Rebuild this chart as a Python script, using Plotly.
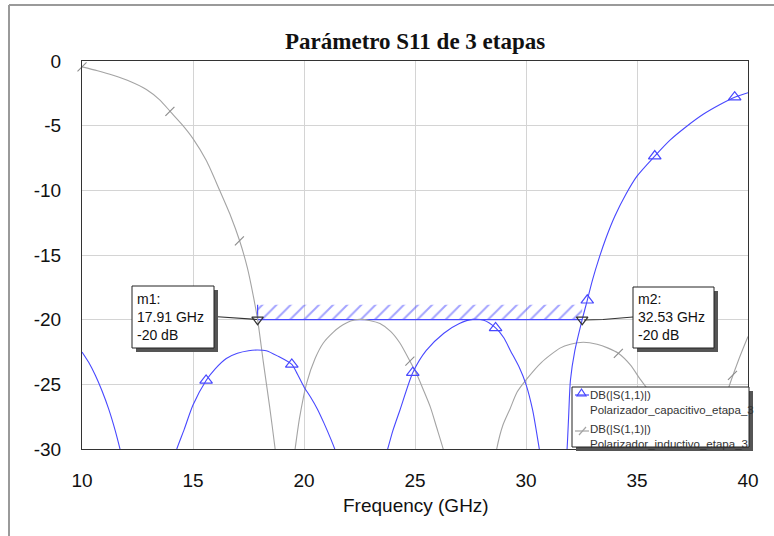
import plotly.graph_objects as go

# ---------------- data ----------------
# Polarizador_capacitivo_etapa_3 (blue), separate arcs (values below -30 are clipped by the axis)
cap_a_ghz = [10.0, 10.3, 10.6, 10.9, 11.2, 11.5, 11.8, 12.0]
cap_a_db = [-22.5, -23.3, -24.3, -25.5, -26.9, -28.6, -30.6, -32.0]
cap_b_ghz = [14.0, 14.27, 14.6, 15.0, 15.59, 16.0, 16.5, 17.0, 17.5, 17.9, 18.3, 18.8, 19.45, 19.7, 20.0, 20.3, 20.6, 20.9, 21.2, 21.45, 21.6]
cap_b_db = [-31.5, -30.0, -28.5, -26.6, -24.7, -23.8, -23.0, -22.6, -22.4, -22.35, -22.4, -22.8, -23.46, -24.2, -25.2, -26.0, -26.9, -28.0, -29.2, -30.3, -31.2]
cap_c_ghz = [23.5, 23.77, 24.0, 24.32, 24.9, 25.5, 26.3, 27.0, 27.6, 28.1, 28.63, 29.0, 29.3, 29.7, 30.0, 30.3, 30.6, 30.75]
cap_c_db = [-31.6, -30.0, -28.6, -27.0, -24.1, -22.4, -21.05, -20.3, -19.98, -20.05, -20.64, -21.4, -22.4, -23.7, -25.0, -27.0, -30.0, -31.5]
cap_d_ghz = [31.75, 31.85, 31.92, 32.0, 32.2, 32.53, 32.76, 33.0, 33.3, 33.6, 34.0, 34.5, 35.0, 35.8, 36.5, 37.2, 38.0, 38.7, 39.4, 40.0]
cap_d_db = [-32.0, -30.0, -27.5, -24.7, -22.4, -20.0, -18.5, -16.9, -15.2, -13.7, -12.0, -10.3, -8.9, -7.35, -6.1, -5.1, -4.1, -3.4, -2.8, -2.45]
cap_mark_ghz = [15.59, 19.45, 24.9, 28.63, 32.76, 35.8, 39.4]
cap_mark_db = [-24.7, -23.46, -24.1, -20.64, -18.5, -7.35, -2.8]

# Polarizador_inductivo_etapa_3 (gray)
ind_a_ghz = [10.0, 10.7, 11.4, 12.2, 12.9, 13.5, 14.0, 14.5, 15.0, 15.6, 16.2, 16.7, 17.1, 17.45, 17.72, 17.91, 18.17, 18.45, 18.7, 18.8]
ind_a_db = [-0.45, -0.75, -1.1, -1.6, -2.2, -3.0, -3.95, -4.9, -6.0, -7.7, -10.0, -12.0, -13.9, -16.0, -18.2, -20.0, -23.3, -26.7, -30.0, -31.5]
ind_b_ghz = [19.45, 19.6, 19.8, 20.12, 20.5, 20.87, 21.3, 21.62, 22.1, 22.5, 23.0, 23.42, 23.9, 24.32, 24.77, 25.1, 25.37, 25.7, 25.97, 26.27, 26.4]
ind_b_db = [-32.0, -30.0, -27.6, -24.9, -23.0, -21.8, -21.0, -20.55, -20.1, -19.98, -20.08, -20.3, -20.9, -21.8, -23.2, -24.3, -25.4, -26.8, -28.3, -30.0, -31.0]
ind_c_ghz = [28.55, 28.68, 28.95, 29.28, 29.6, 30.03, 30.7, 31.53, 32.0, 32.58, 33.2, 33.7, 34.16, 34.7, 35.14, 35.6, 35.95, 36.25, 36.5, 36.6]
ind_c_db = [-31.5, -30.0, -28.2, -26.9, -25.6, -24.6, -23.3, -22.2, -21.9, -21.75, -21.9, -22.2, -22.6, -23.5, -24.6, -25.7, -27.2, -28.7, -30.0, -31.0]
ind_d_ghz = [38.3, 38.45, 38.8, 39.2, 39.6, 40.0]
ind_d_db = [-31.0, -30.0, -27.0, -24.9, -23.0, -21.3]
ind_mark_ghz = [10.0, 13.96, 17.09, 24.77, 34.16, 39.3]
ind_mark_db = [-0.45, -3.9, -13.9, -23.2, -22.6, -24.3]

# markers m1 / m2 and the -20 dB goal band
marker_names = ["m1", "m2"]
marker_ghz = [17.91, 32.53]
marker_db = [-20.0, -20.0]
goal_ghz = [17.91, 32.53]
goal_db = [-20.0, -18.85]

x_ticks = [10, 15, 20, 25, 30, 35, 40]
y_ticks = [0, -5, -10, -15, -20, -25, -30]

BLUE = "#4848ff"
GRAY = "#a4a4a4"
FONT = "Liberation Sans, Arial, sans-serif"


def join(*segs):
    xs, ys = [], []
    for sx, sy in segs:
        xs += list(sx) + [None]
        ys += list(sy) + [None]
    return xs, ys


# pixel -> paper helpers for decorations (plot area 82..748 x 61..449)
def PX(px):
    return (px - 82) / 666.0


def PY(py):
    return (449 - py) / 388.0


fig = go.Figure()

# hatched goal band
fig.add_trace(go.Scatter(
    x=[goal_ghz[0], goal_ghz[1], goal_ghz[1], goal_ghz[0], goal_ghz[0]],
    y=[goal_db[0], goal_db[0], goal_db[1], goal_db[1], goal_db[0]],
    mode="lines", fill="toself", line=dict(width=0, color=BLUE),
    fillcolor="rgba(0,0,0,0)",
    fillpattern=dict(shape="/", fgcolor=BLUE, bgcolor="rgba(0,0,0,0)", size=10, solidity=0.2),
    hoverinfo="skip", showlegend=False))
fig.add_trace(go.Scatter(x=goal_ghz, y=[goal_db[0], goal_db[0]], mode="lines",
                         line=dict(color=BLUE, width=1.4), showlegend=False, hoverinfo="skip"))
fig.add_trace(go.Scatter(x=[goal_ghz[0], goal_ghz[0]], y=[goal_db[1], goal_db[0]], mode="lines",
                         line=dict(color=BLUE, width=1.2), showlegend=False, hoverinfo="skip"))

ix, iy = join((ind_a_ghz, ind_a_db), (ind_b_ghz, ind_b_db), (ind_c_ghz, ind_c_db), (ind_d_ghz, ind_d_db))
fig.add_trace(go.Scatter(x=ix, y=iy, mode="lines", line=dict(color=GRAY, width=1.1, shape="spline", smoothing=0.7),
                         showlegend=False))
fig.add_trace(go.Scatter(x=ind_mark_ghz, y=ind_mark_db, mode="markers",
                         marker=dict(symbol="line-ne", size=9, line=dict(color="#8c8c8c", width=1.1)),
                         showlegend=False, cliponaxis=False))

cx, cy = join((cap_a_ghz, cap_a_db), (cap_b_ghz, cap_b_db), (cap_c_ghz, cap_c_db), (cap_d_ghz, cap_d_db))
fig.add_trace(go.Scatter(x=cx, y=cy, mode="lines", line=dict(color=BLUE, width=1.1, shape="spline", smoothing=0.7),
                         showlegend=False))
fig.add_trace(go.Scatter(x=cap_mark_ghz, y=cap_mark_db, mode="markers",
                         marker=dict(symbol="triangle-up-open", size=11, color=BLUE, line=dict(color=BLUE, width=1.2)),
                         showlegend=False))

fig.add_trace(go.Scatter(x=marker_ghz, y=marker_db, mode="markers",
                         marker=dict(symbol="triangle-down-open", size=10, color="#333", line=dict(color="#333", width=1.2)),
                         showlegend=False))

shapes = []
# outer frame fragments
shapes.append(dict(type="line", xref="paper", yref="paper", x0=PX(9), x1=PX(774), y0=PY(5), y1=PY(5),
                   line=dict(color="#9a9a9a", width=2)))
shapes.append(dict(type="line", xref="paper", yref="paper", x0=PX(9), x1=PX(9), y0=PY(5), y1=PY(536),
                   line=dict(color="#9a9a9a", width=2)))


def box(x0, y0, x1, y1):
    shapes.append(dict(type="rect", xref="paper", yref="paper", x0=PX(x0 + 4), x1=PX(x1 + 4),
                       y0=PY(y0 + 4), y1=PY(y1 + 4), fillcolor="#555", line=dict(width=0), layer="above"))
    shapes.append(dict(type="rect", xref="paper", yref="paper", x0=PX(x0), x1=PX(x1),
                       y0=PY(y0), y1=PY(y1), fillcolor="white", line=dict(color="#222", width=1), layer="above"))


# leader lines
shapes.append(dict(type="line", xref="paper", yref="paper", x0=PX(214), x1=PX(257), y0=PY(316.5), y1=PY(319.5),
                   line=dict(color="#333", width=1.2), layer="above"))
shapes.append(dict(type="path", xref="paper", yref="paper",
                   path=f"M {PX(584)},{PY(320)} L {PX(603)},{PY(319.5)} L {PX(633)},{PY(317)}",
                   line=dict(color="#333", width=1.2), layer="above"))
box(132, 286, 214, 348)
box(633, 287, 714, 348)
box(572, 387, 749, 447)
# legend symbols
shapes.append(dict(type="line", xref="paper", yref="paper", x0=PX(575), x1=PX(589), y0=PY(395), y1=PY(395),
                   line=dict(color=BLUE, width=1.2), layer="above"))
shapes.append(dict(type="path", xref="paper", yref="paper",
                   path=f"M {PX(577)},{PY(396)} L {PX(586)},{PY(396)} L {PX(581.5)},{PY(389)} Z",
                   line=dict(color=BLUE, width=1.2), layer="above"))
shapes.append(dict(type="line", xref="paper", yref="paper", x0=PX(575), x1=PX(589), y0=PY(431), y1=PY(431),
                   line=dict(color=GRAY, width=1.2), layer="above"))
shapes.append(dict(type="line", xref="paper", yref="paper", x0=PX(579), x1=PX(586), y0=PY(435), y1=PY(427),
                   line=dict(color=GRAY, width=1.2), layer="above"))

annotations = [
    dict(text="<b>Parámetro S11 de 3 etapas</b>", x=PX(415), y=PY(42), xref="paper", yref="paper",
         xanchor="center", yanchor="middle",
         showarrow=False, font=dict(family="Liberation Serif, Times New Roman, serif", size=23, color="#111")),
    dict(text="Frequency (GHz)", x=PX(416), y=PY(506), xref="paper", yref="paper",
         xanchor="center", yanchor="middle",
         showarrow=False, font=dict(family=FONT, size=19, color="#111")),
]
for name, f, d, xpx in zip(marker_names, marker_ghz, marker_db, [135, 636]):
    annotations.append(dict(text=f"{name}:<br>{f:.2f} GHz<br>{d:.0f} dB", x=PX(xpx), y=PY(317),
                            xref="paper", yref="paper", xanchor="left", yanchor="middle", align="left",
                            showarrow=False, font=dict(family=FONT, size=14, color="#111")))
for label, ypx in [("Polarizador_capacitivo_etapa_3", 402), ("Polarizador_inductivo_etapa_3", 436)]:
    annotations.append(dict(text=f"DB(|S(1,1)|)<br>{label}", x=PX(588), y=PY(ypx), xref="paper", yref="paper",
                            xanchor="left", yanchor="middle", align="left", showarrow=False,
                            font=dict(family=FONT, size=11.5, color="#333")))

fig.update_layout(
    width=774, height=536, autosize=False,
    margin=dict(l=82, r=26, t=61, b=87),
    paper_bgcolor="white", plot_bgcolor="white",
    showlegend=False,
    shapes=shapes, annotations=annotations,
    xaxis=dict(range=[10, 40], tickvals=x_ticks, ticktext=[str(v) for v in x_ticks],
               showgrid=True, gridcolor="#d4d4d4", gridwidth=1, zeroline=False,
               showline=True, linecolor="#333", linewidth=1, mirror=True,
               ticks="outside", ticklen=14, tickcolor="rgba(0,0,0,0)",
               tickfont=dict(family=FONT, size=19, color="#111")),
    yaxis=dict(range=[-30, 0], tickvals=y_ticks, ticktext=[str(v) for v in y_ticks],
               showgrid=True, gridcolor="#d4d4d4", gridwidth=1, zeroline=False,
               showline=True, linecolor="#333", linewidth=1, mirror=True,
               ticks="outside", ticklen=16, tickcolor="rgba(0,0,0,0)",
               tickfont=dict(family=FONT, size=19, color="#111")),
)

fig.write_html("out.html", config={"displayModeBar": False},
               post_script="document.body.style.margin='0';document.body.style.padding='0';document.body.style.overflow='hidden';")
